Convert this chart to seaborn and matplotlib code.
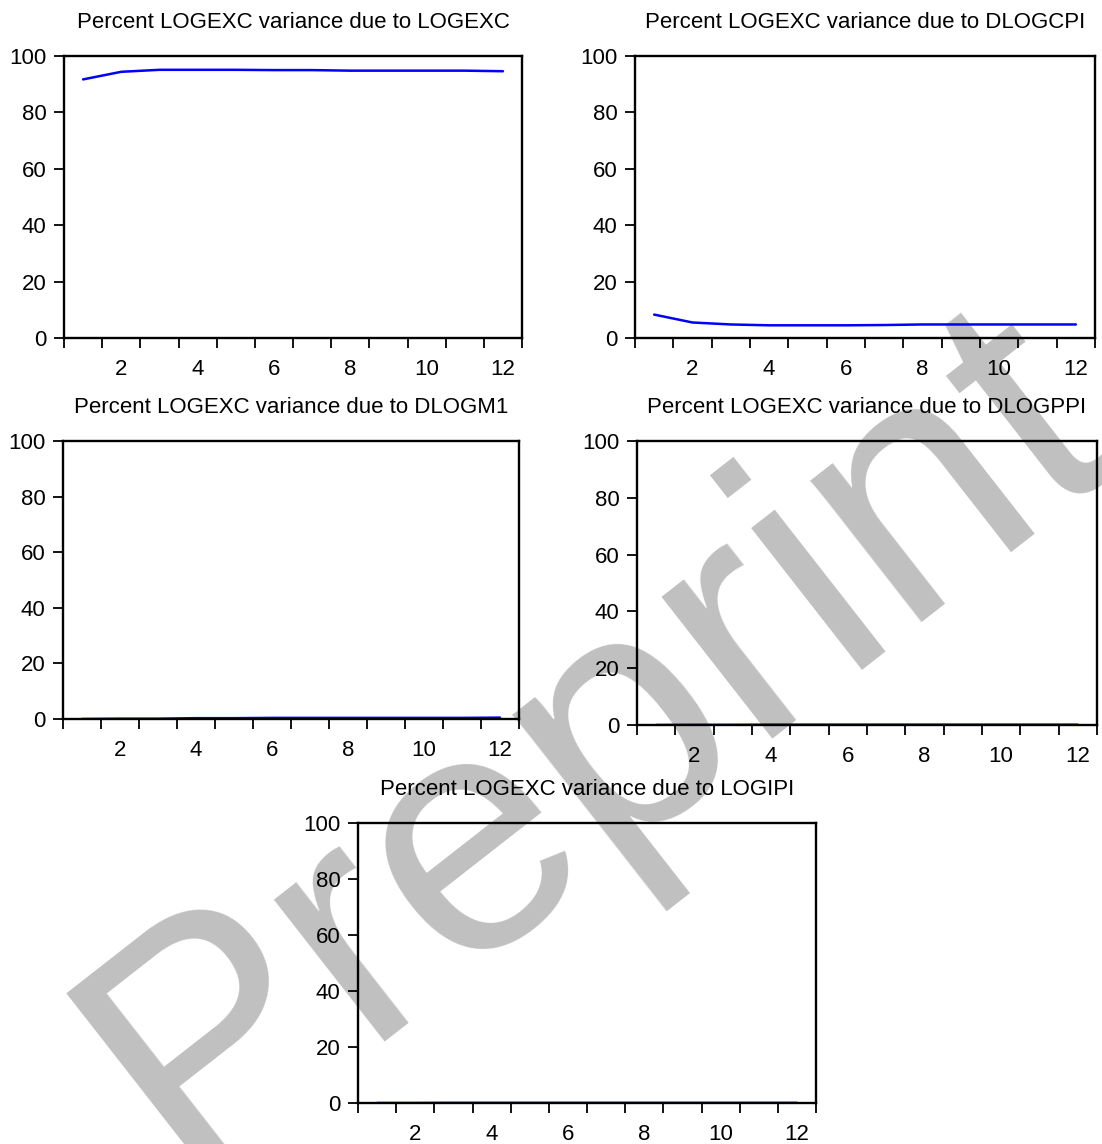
import numpy as np
import pandas as pd
import matplotlib
matplotlib.use("Agg")
import matplotlib.pyplot as plt
import seaborn as sns

# Variance decomposition of LOGEXC, horizons 1..12
periods = list(range(1, 13))
logexc = [91.7, 94.4, 95.1, 95.1, 95.1, 95.0, 95.0, 94.8, 94.8, 94.8, 94.8, 94.6]
dlogcpi = [8.3, 5.5, 4.8, 4.5, 4.5, 4.5, 4.6, 4.8, 4.8, 4.8, 4.8, 4.8]
dlogm1 = [0.0, 0.1, 0.1, 0.3, 0.3, 0.4, 0.4, 0.4, 0.4, 0.4, 0.4, 0.5]
dlogppi = [0.0, 0.05, 0.05, 0.1, 0.1, 0.1, 0.1, 0.1, 0.1, 0.1, 0.1, 0.1]
logipi = [0.0, 0.0, 0.05, 0.05, 0.05, 0.05, 0.05, 0.05, 0.05, 0.05, 0.05, 0.05]

shock_names = ["LOGEXC", "DLOGCPI", "DLOGM1", "DLOGPPI", "LOGIPI"]
shock_values = [logexc, dlogcpi, dlogm1, dlogppi, logipi]

sns.set_theme(style="white")
plt.rcParams["font.family"] = ["Liberation Sans", "DejaVu Sans"]

W, H = 1102, 1144
fig = plt.figure(figsize=(W / 100, H / 100), dpi=100)

# panel boxes in pixels: left, right, top, bottom
boxes = [
    (64, 522, 56, 338),
    (635, 1095, 56, 338),
    (63, 519, 441, 719),
    (637, 1097, 441, 725),
    (358, 816, 823, 1103),
]

# faint diagonal watermark behind the panels
fig.text(0.543, 0.351, "Preprint", rotation=38, color="#c0c0c0",
         fontsize=245, fontweight="normal", ha="center", va="center",
         zorder=-5)

for name, vals, (l, r, t, b) in zip(shock_names, shock_values, boxes):
    ax = fig.add_axes([l / W, 1 - b / H, (r - l) / W, (b - t) / H])
    ax.patch.set_alpha(0)
    df = pd.DataFrame({"period": periods, "pct": vals})
    sns.lineplot(data=df, x="period", y="pct", ax=ax, color="#0000ff",
                 linewidth=1.8)
    ax.set_xlim(0.5, 12.5)
    ax.set_ylim(0, 100)
    ax.set_xlabel("")
    ax.set_ylabel("")
    ax.set_xticks(list(range(2, 13, 2)))
    ax.set_xticks(np.arange(0.5, 13, 1.0), minor=True)
    ax.set_yticks(list(range(0, 101, 20)))
    ax.tick_params(axis="x", which="major", length=0, pad=15,
                   labelsize=16, labelcolor="black")
    ax.tick_params(axis="x", which="minor", length=7.5, width=1.3,
                   direction="out", color="black", bottom=True)
    ax.tick_params(axis="y", which="major", length=7.5, width=1.3,
                   direction="out", color="black", left=True, pad=5,
                   labelsize=16, labelcolor="black")
    for sp in ax.spines.values():
        sp.set_visible(True)
        sp.set_color("black")
        sp.set_linewidth(1.7)
    ax.set_title(f"Percent LOGEXC variance due to {name}", fontsize=16,
                 color="black", pad=20)

fig.savefig("out.png", dpi=100, facecolor="white")
